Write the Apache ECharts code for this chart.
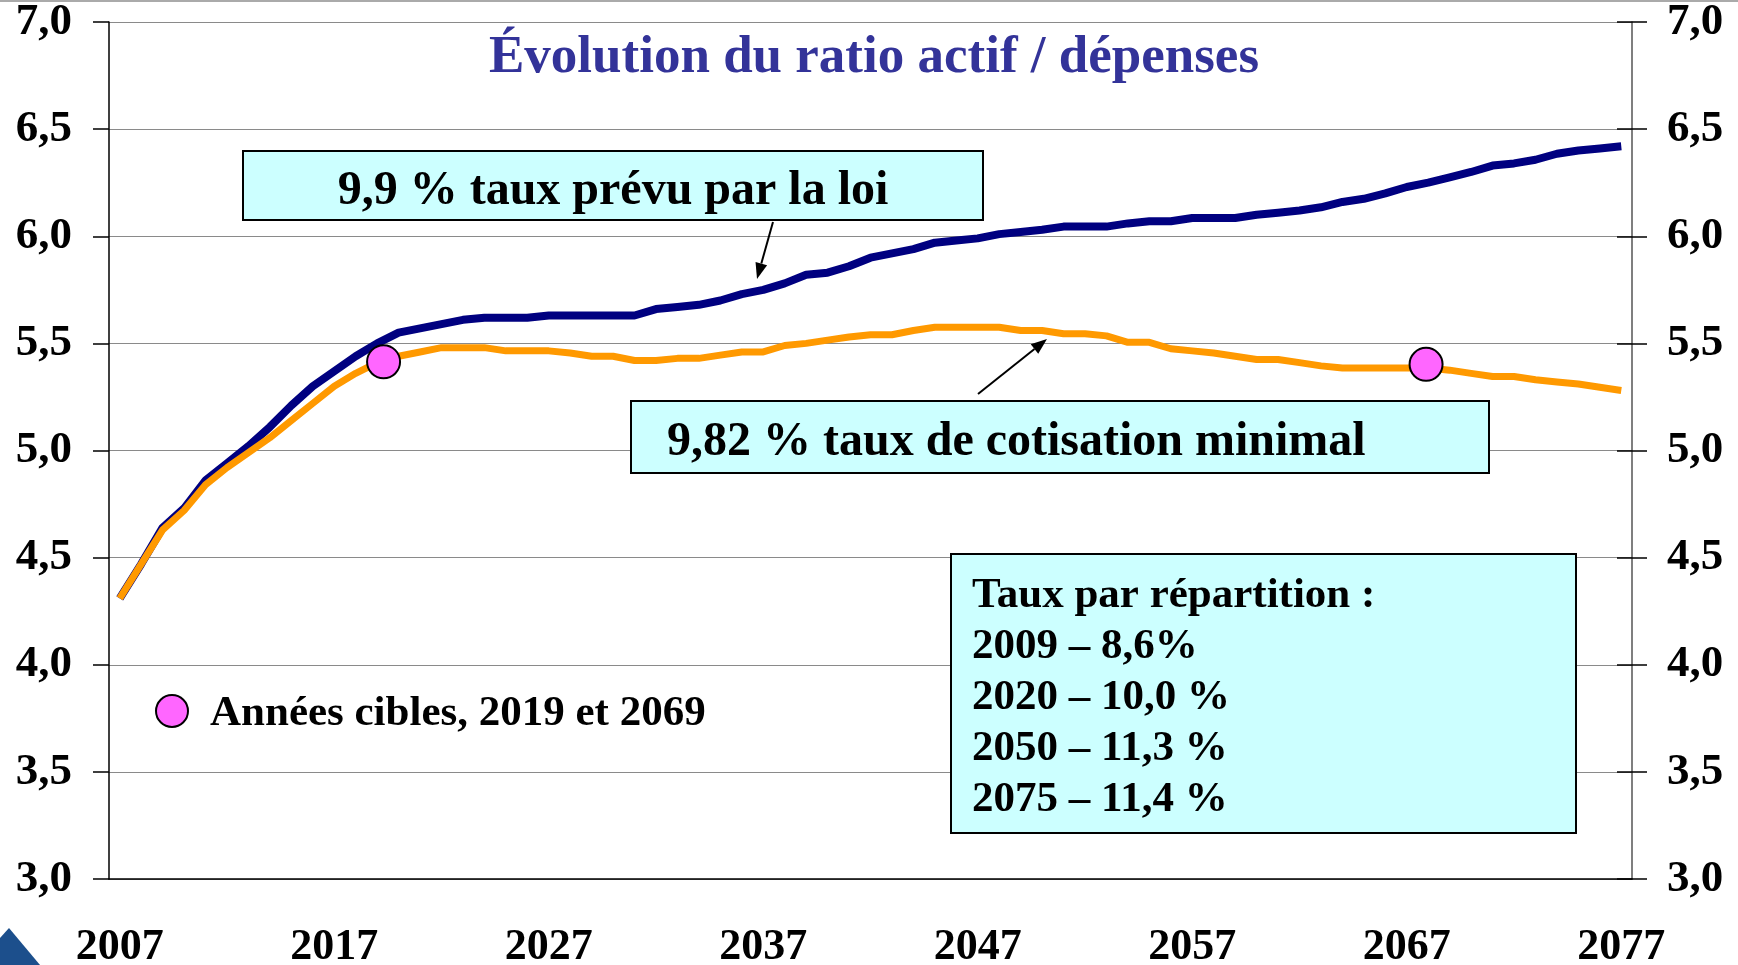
<!DOCTYPE html>
<html>
<head>
<meta charset="utf-8">
<title>Évolution du ratio actif / dépenses</title>
<script src="https://cdn.jsdelivr.net/npm/echarts@6/dist/echarts.min.js"></script>
<style>
  html, body { margin: 0; padding: 0; background: #fff; }
  #chart { width: 1738px; height: 965px; }
</style>
</head>
<body>
<div id="chart"></div>
<script>
// years 2007 .. 2077
const years = [];
for (let y = 2007; y <= 2077; y++) years.push(String(y));

// 9,9 % taux prévu par la loi
const tauxLoi = [
  4.31, 4.47, 4.64, 4.73, 4.86, 4.94, 5.02, 5.11, 5.21, 5.30,
  5.37, 5.44, 5.50, 5.55, 5.57, 5.59, 5.61, 5.62, 5.62, 5.62,
  5.63, 5.63, 5.63, 5.63, 5.63, 5.66, 5.67, 5.68, 5.70, 5.73,
  5.75, 5.78, 5.82, 5.83, 5.86, 5.90, 5.92, 5.94, 5.97, 5.98,
  5.99, 6.01, 6.02, 6.03, 6.045, 6.045, 6.045, 6.06, 6.07, 6.07,
  6.085, 6.085, 6.085, 6.10, 6.11, 6.12, 6.135, 6.16, 6.175, 6.20,
  6.23, 6.25, 6.275, 6.30, 6.33, 6.34, 6.357, 6.385, 6.40, 6.41,
  6.42
];

// 9,82 % taux de cotisation minimal
const tauxMinimal = [
  4.31, 4.47, 4.63, 4.72, 4.84, 4.92, 4.99, 5.06, 5.14, 5.22,
  5.30, 5.36, 5.41, 5.44, 5.46, 5.48, 5.48, 5.48, 5.465, 5.465,
  5.465, 5.455, 5.44, 5.44, 5.42, 5.42, 5.43, 5.43, 5.445, 5.46,
  5.46, 5.49, 5.50, 5.515, 5.53, 5.54, 5.54, 5.56, 5.575, 5.575,
  5.575, 5.575, 5.56, 5.56, 5.545, 5.545, 5.535, 5.505, 5.505, 5.475,
  5.465, 5.455, 5.44, 5.425, 5.425, 5.41, 5.395, 5.385, 5.385, 5.385,
  5.385, 5.385, 5.375, 5.36, 5.345, 5.345, 5.33, 5.32, 5.31, 5.295,
  5.28
];

// années cibles (position of the pink dots as drawn)
const cibleX = [2019.3, 2067.9];
const cibleY = [5.414, 5.402];

const repartition = [
  'Taux par répartition :',
  '2009 – 8,6%',
  '2020 – 10,0 %',
  '2050 – 11,3 %',
  '2075 – 11,4 %'
];

const SERIF = '"Liberation Serif", "Times New Roman", serif';
const chart = echarts.init(document.getElementById('chart'));

function fmt(v) { return v.toFixed(1).replace('.', ','); }

function arrow(x1, y1, x2, y2) {
  const dx = x2 - x1, dy = y2 - y1;
  const len = Math.sqrt(dx * dx + dy * dy);
  const ux = dx / len, uy = dy / len;
  const bx = x2 - 16 * ux, by = y2 - 16 * uy;
  const nx = -uy, ny = ux;
  return [
    { type: 'line', z: 50, shape: { x1: x1, y1: y1, x2: bx, y2: by }, style: { stroke: '#000', lineWidth: 2 } },
    { type: 'polygon', z: 50, shape: { points: [[x2, y2], [bx + 6 * nx, by + 6 * ny], [bx - 6 * nx, by - 6 * ny]] }, style: { fill: '#000' } }
  ];
}

const boxStyle = { fill: '#CCFFFF', stroke: '#000', lineWidth: 2 };

const graphics = [
  // slide top border + corner logo piece
  { type: 'line', shape: { x1: 0, y1: 1, x2: 1738, y2: 1 }, style: { stroke: '#aaa', lineWidth: 2 } },
  { type: 'polygon', shape: { points: [[0, 938], [9, 928], [40, 965], [0, 965]] }, style: { fill: '#1c4f8c' } },
  { type: 'text', z: 50, style: { text: 'Évolution du ratio actif / dépenses', x: 874, y: 58, align: 'center', verticalAlign: 'middle',
      font: 'bold 53px ' + SERIF, fill: '#333399' } },
  { type: 'rect', z: 40, shape: { x: 243, y: 151, width: 740, height: 69 }, style: boxStyle },
  { type: 'text', z: 41, style: { text: '9,9 % taux prévu par la loi', x: 613, y: 192, align: 'center', verticalAlign: 'middle',
      font: 'bold 48px ' + SERIF, fill: '#000' } },
  { type: 'rect', z: 40, shape: { x: 631, y: 401, width: 858, height: 72 }, style: boxStyle },
  { type: 'text', z: 41, style: { text: '9,82 % taux de cotisation minimal', x: 667, y: 443, align: 'left', verticalAlign: 'middle',
      font: 'bold 48px ' + SERIF, fill: '#000' } },
  { type: 'rect', z: 40, shape: { x: 951, y: 554, width: 625, height: 279 }, style: boxStyle },
  { type: 'circle', z: 40, shape: { cx: 172, cy: 711, r: 16 }, style: { fill: '#FF66FF', stroke: '#000', lineWidth: 2 } },
  { type: 'text', z: 41, style: { text: 'Années cibles, 2019 et 2069', x: 210, y: 714, align: 'left', verticalAlign: 'middle',
      font: 'bold 43px ' + SERIF, fill: '#000' } }
].concat(arrow(773, 222, 757, 279), arrow(978, 394, 1047, 339));

repartition.forEach(function (t, i) {
  graphics.push({ type: 'text', z: 41, style: { text: t, x: 972, y: 596 + i * 51, align: 'left', verticalAlign: 'middle',
    font: 'bold 43px ' + SERIF, fill: '#000' } });
});

const yLabel = { fontFamily: SERIF, fontWeight: 'bold', fontSize: 45, color: '#000', formatter: fmt, padding: [14, 0, 0, 0] };

chart.setOption({
  animation: false,
  backgroundColor: '#fff',
  grid: { left: 109, right: 106, top: 22, bottom: 86, outerBoundsMode: 'none' },
  xAxis: [
    {
      type: 'category',
      data: years,
      boundaryGap: true,
      axisLine: { lineStyle: { color: '#000', width: 1.5 } },
      axisTick: { interval: 4, length: 14, lineStyle: { color: '#000', width: 1.5 } },
      axisLabel: { interval: 9, margin: 47, fontFamily: SERIF, fontWeight: 'bold', fontSize: 44, color: '#000' },
      splitLine: { show: false }
    },
    { type: 'value', min: 2006.5, max: 2077.5, show: false }
  ],
  yAxis: [
    {
      type: 'value', min: 3, max: 7, interval: 0.5,
      axisLine: { show: true, lineStyle: { color: '#000', width: 1.5 } },
      axisTick: { show: true, length: 16, lineStyle: { color: '#000', width: 1.5 } },
      axisLabel: Object.assign({ margin: 37 }, yLabel),
      splitLine: { show: true, lineStyle: { color: '#8a8a8a', width: 1.2 } }
    },
    {
      type: 'value', position: 'right', min: 3, max: 7, interval: 0.5,
      axisLine: { show: true, lineStyle: { color: '#555', width: 1.5 } },
      axisTick: { show: true, length: 15, lineStyle: { color: '#000', width: 1.5 } },
      axisLabel: Object.assign({ margin: 35 }, yLabel),
      splitLine: { show: false }
    },
    {
      type: 'value', position: 'right', min: 3, max: 7, interval: 0.5,
      axisLine: { show: false },
      axisTick: { show: true, inside: true, length: 15, lineStyle: { color: '#000', width: 1.5 } },
      axisLabel: { show: false },
      splitLine: { show: false }
    }
  ],
  series: [
    {
      name: '9,9 % taux prévu par la loi',
      type: 'line', data: tauxLoi, symbol: 'none', z: 3,
      lineStyle: { color: '#000080', width: 8 }
    },
    {
      name: '9,82 % taux de cotisation minimal',
      type: 'line', data: tauxMinimal, symbol: 'none', z: 4,
      lineStyle: { color: '#FF9900', width: 7 }
    },
    {
      name: 'Années cibles, 2019 et 2069',
      type: 'scatter', xAxisIndex: 1, z: 6,
      data: cibleX.map(function (x, i) { return [x, cibleY[i]]; }),
      symbol: 'circle', symbolSize: 33,
      itemStyle: { color: '#FF66FF', borderColor: '#000', borderWidth: 2, opacity: 1 }
    }
  ],
  graphic: graphics
});
</script>
</body>
</html>
